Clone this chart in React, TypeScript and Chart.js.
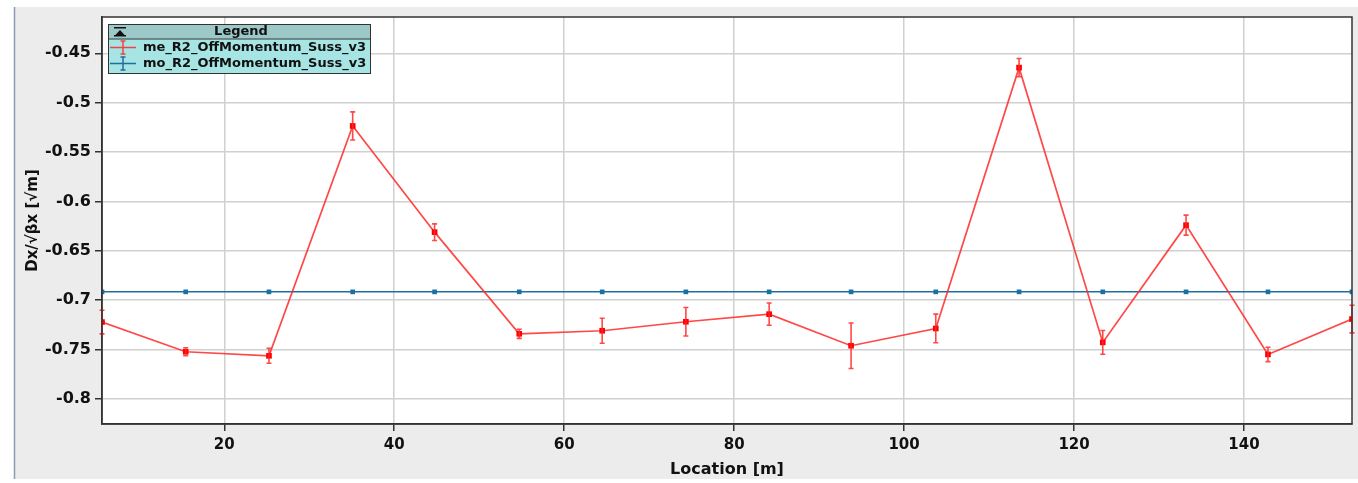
import React, { useEffect, useRef } from "react";
import { Chart, registerables } from "chart.js";

Chart.register(...registerables);

const locations = [5.61, 15.46, 25.26, 35.11, 44.75, 54.71, 64.47, 74.32, 84.12, 93.76, 103.73, 113.53, 123.38, 133.18, 142.82, 152.71];
const meValues = [-0.7223, -0.7524, -0.7565, -0.5236, -0.6312, -0.7342, -0.7311, -0.722, -0.7143, -0.7463, -0.7288, -0.4645, -0.7429, -0.6241, -0.7551, -0.7193];
const meErrors = [0.012, 0.004, 0.0076, 0.0143, 0.0084, 0.0046, 0.0127, 0.0145, 0.0113, 0.0231, 0.0145, 0.0093, 0.012, 0.0101, 0.0073, 0.014];
const moValues = [-0.6917, -0.6917, -0.6917, -0.6917, -0.6917, -0.6917, -0.6917, -0.6917, -0.6917, -0.6917, -0.6917, -0.6917, -0.6917, -0.6917, -0.6917, -0.6917];
const seriesNames = ["me_R2_OffMomentum_Suss_v3", "mo_R2_OffMomentum_Suss_v3"];
const xTitle = "Location [m]";
const yTitle = "Dx/\u221A\u03B2x [\u221Am]";
const legendTitle = "Legend";
const xRange = [5.61, 152.71];
const yRange = [-0.8256, -0.4132];

const RED = "rgba(255,40,40,0.85)";
const RED_MARK = "#ff0000";
const BLUE = "#1f6e9c";
const BLUE_MARK = "#1a6fa3";
const FONT = "'DejaVu Sans', sans-serif";

const backgroundPlugin = {
  id: "bgPanel",
  beforeDraw(chart: any) {
    const { ctx, width, height, chartArea } = chart;
    ctx.save();
    ctx.fillStyle = "#ffffff";
    ctx.fillRect(0, 0, width, height);
    ctx.fillStyle = "#ececec";
    ctx.fillRect(14, 7, width - 14, 472);
    ctx.strokeStyle = "#8b9cb2";
    ctx.lineWidth = 1.5;
    ctx.beginPath();
    ctx.moveTo(14.5, 7);
    ctx.lineTo(14.5, 479);
    ctx.stroke();
    ctx.fillStyle = "#ffffff";
    ctx.fillRect(chartArea.left, chartArea.top, chartArea.right - chartArea.left, chartArea.bottom - chartArea.top);
    ctx.restore();
  },
};

const errorBarPlugin = {
  id: "errorBars",
  afterDatasetsDraw(chart: any) {
    const { ctx, scales } = chart;
    const xs = scales.x;
    const ys = scales.y;
    ctx.save();
    ctx.strokeStyle = RED;
    ctx.lineWidth = 1.6;
    for (let i = 0; i < locations.length; i++) {
      const px = xs.getPixelForValue(locations[i]);
      const y1 = ys.getPixelForValue(meValues[i] - meErrors[i]);
      const y2 = ys.getPixelForValue(meValues[i] + meErrors[i]);
      ctx.beginPath();
      ctx.moveTo(px, y1);
      ctx.lineTo(px, y2);
      ctx.moveTo(px - 2.5, y1);
      ctx.lineTo(px + 2.5, y1);
      ctx.moveTo(px - 2.5, y2);
      ctx.lineTo(px + 2.5, y2);
      ctx.stroke();
    }
    const a = chart.chartArea;
    ctx.strokeStyle = "#333333";
    ctx.lineWidth = 1.5;
    ctx.strokeRect(a.left, a.top, a.right - a.left, a.bottom - a.top);
    ctx.restore();
  },
};

const legendPlugin = {
  id: "customLegend",
  afterDraw(chart: any) {
    const { ctx } = chart;
    const x = 108, y = 24, w = 263, h = 50;
    const headH = 14.5;
    ctx.save();
    ctx.fillStyle = "#a7e5e5";
    ctx.fillRect(x, y, w, h);
    ctx.fillStyle = "#9cc8c8";
    ctx.fillRect(x, y, w, headH);
    ctx.strokeStyle = "#333333";
    ctx.lineWidth = 1;
    ctx.beginPath();
    ctx.moveTo(x, y + headH + 0.5);
    ctx.lineTo(x + w, y + headH + 0.5);
    ctx.stroke();
    ctx.strokeRect(x + 0.5, y + 0.5, w - 1, h - 1);
    ctx.fillStyle = "#111111";
    ctx.fillRect(114, 27, 12, 1.5);
    ctx.beginPath();
    ctx.moveTo(115, 35.5);
    ctx.lineTo(125, 35.5);
    ctx.lineTo(120, 30);
    ctx.closePath();
    ctx.fill();
    ctx.fillRect(114, 35, 12, 1.5);
    ctx.font = `bold 13px ${FONT}`;
    ctx.textAlign = "center";
    ctx.textBaseline = "middle";
    ctx.fillStyle = "#111111";
    ctx.fillText(legendTitle, 241, y + headH / 2 + 0.5);
    const rows = [
      { name: seriesNames[0], color: RED, cy: 47.5 },
      { name: seriesNames[1], color: BLUE, cy: 63.5 },
    ];
    for (const r of rows) {
      ctx.strokeStyle = r.color;
      ctx.lineWidth = 1.5;
      ctx.beginPath();
      ctx.moveTo(110, r.cy);
      ctx.lineTo(136, r.cy);
      ctx.moveTo(123, r.cy - 6.5);
      ctx.lineTo(123, r.cy + 6.5);
      ctx.moveTo(120.5, r.cy - 6.5);
      ctx.lineTo(125.5, r.cy - 6.5);
      ctx.moveTo(120.5, r.cy + 6.5);
      ctx.lineTo(125.5, r.cy + 6.5);
      ctx.stroke();
      ctx.fillStyle = "#111111";
      ctx.textAlign = "left";
      ctx.fillText(r.name, 143, r.cy + 0.5);
    }
    ctx.restore();
  },
};

function fmt(v: number): string {
  return String(Number(v.toFixed(2)));
}

export default function App() {
  const canvasRef = useRef<HTMLCanvasElement | null>(null);

  useEffect(() => {
    document.body.style.margin = "0";
    const canvas = canvasRef.current;
    if (!canvas) return;
    const chart = new Chart(canvas, {
      type: "line",
      data: {
        datasets: [
          {
            label: seriesNames[0],
            data: locations.map((x, i) => ({ x, y: meValues[i] })),
            borderColor: RED,
            borderWidth: 1.7,
            backgroundColor: RED_MARK,
            pointBackgroundColor: RED_MARK,
            pointBorderColor: RED_MARK,
            pointBorderWidth: 0,
            pointStyle: "rect",
            pointRadius: 4,
            tension: 0,
          },
          {
            label: seriesNames[1],
            data: locations.map((x, i) => ({ x, y: moValues[i] })),
            borderColor: BLUE,
            borderWidth: 1.5,
            backgroundColor: BLUE_MARK,
            pointBackgroundColor: BLUE_MARK,
            pointBorderColor: BLUE_MARK,
            pointBorderWidth: 0,
            pointStyle: "rect",
            pointRadius: 3.3,
            tension: 0,
          },
        ],
      },
      options: {
        responsive: false,
        animation: false,
        layout: { padding: { left: 0, top: 17, right: 6, bottom: 0 } },
        plugins: {
          legend: { display: false },
          tooltip: { enabled: false },
        },
        scales: {
          x: {
            type: "linear",
            min: xRange[0],
            max: xRange[1],
            afterFit(scale: any) {
              scale.height = 59;
            },
            ticks: {
              stepSize: 20,
              includeBounds: false,
              padding: 5,
              color: "#111111",
              font: { family: FONT, size: 15, weight: "bold" },
              maxRotation: 0,
            },
            grid: {
              color: "#d0d0d0",
              lineWidth: 1.5,
              tickLength: 7,
              tickColor: "#333333",
              tickWidth: 1.5,
            },
            border: { color: "#333333", width: 1.5 },
            title: {
              display: true,
              text: xTitle,
              color: "#111111",
              font: { family: FONT, size: 16, weight: "bold" },
              padding: { top: 0, bottom: 4 },
            },
          },
          y: {
            type: "linear",
            min: yRange[0],
            max: yRange[1],
            afterFit(scale: any) {
              scale.width = 102;
            },
            ticks: {
              stepSize: 0.05,
              includeBounds: false,
              padding: 4,
              color: "#111111",
              font: { family: FONT, size: 16, weight: "bold" },
              callback: (v: any) => fmt(Number(v)),
            },
            grid: {
              color: "#d0d0d0",
              lineWidth: 1.5,
              tickLength: 7,
              tickColor: "#333333",
              tickWidth: 1.5,
            },
            border: { color: "#333333", width: 1.5 },
            title: {
              display: true,
              text: yTitle,
              color: "#111111",
              font: { family: FONT, size: 15, weight: "bold" },
              padding: { top: 24, bottom: 0 },
            },
          },
        },
      },
      plugins: [backgroundPlugin, errorBarPlugin, legendPlugin],
    } as any);
    return () => chart.destroy();
  }, []);

  return (
    <div style={{ position: "absolute", left: 0, top: 0, width: 1358, height: 483 }}>
      <canvas ref={canvasRef} width={1358} height={483} style={{ display: "block" }} />
    </div>
  );
}
